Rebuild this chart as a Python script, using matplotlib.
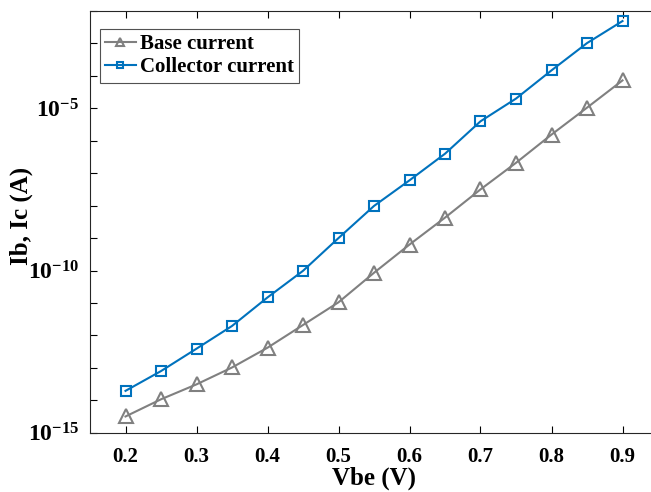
import numpy as np
import matplotlib
matplotlib.use("Agg")
import matplotlib.pyplot as plt

plt.rcParams['font.family'] = ['Liberation Serif', 'DejaVu Serif']
plt.rcParams['font.weight'] = 'bold'
plt.rcParams['mathtext.fontset'] = 'custom'
plt.rcParams['mathtext.rm'] = 'Liberation Serif:bold'
plt.rcParams['mathtext.it'] = 'Liberation Serif:bold'
plt.rcParams['mathtext.bf'] = 'Liberation Serif:bold'

# Datos
vbe = [0.2, 0.25, 0.3, 0.35, 0.4, 0.45, 0.5, 0.55, 0.6, 0.65, 0.7, 0.75, 0.8, 0.85, 0.9]
log_ib = [-14.5, -13.97, -13.51, -12.99, -12.38, -11.68, -10.98, -10.07, -9.2, -8.37,
          -7.5, -6.68, -5.81, -4.98, -4.14]
log_ic = [-13.71, -13.1, -12.41, -11.71, -10.83, -10.01, -9.0, -8.01, -7.22, -6.4,
          -5.4, -4.7, -3.83, -2.99, -2.31]
ib = 10.0 ** np.array(log_ib)
ic = 10.0 ** np.array(log_ic)

gris = '#808080'
azul = '#0072BD'

fig = plt.figure(figsize=(6.51, 4.92), dpi=100)
ax = fig.add_axes([90 / 651, 1 - 432.7 / 492, 568 / 651, (432.7 - 11) / 492])

ax.semilogy(vbe, ib, color=gris, lw=1.5, marker='^', ms=10, mfc='none', mew=1.5,
            label='Base current')
ax.semilogy(vbe, ic, color=azul, lw=1.5, marker='s', ms=6.5, mfc='none', mew=1.5,
            label='Collector current')

ax.set_xlim(0.15, 0.95)
ax.set_ylim(1e-15, 1e-2)
ax.set_xticks([0.2, 0.3, 0.4, 0.5, 0.6, 0.7, 0.8, 0.9])
ax.set_yticks([1e-15, 1e-10, 1e-5])
ax.set_yticklabels([r'$\mathbf{10^{-15}}$', r'$\mathbf{10^{-10}}$', r'$\mathbf{10^{-5}}$'],
                   fontsize=17)
ax.set_yticks(10.0 ** np.arange(-15, -1), minor=True)
ax.yaxis.set_minor_formatter(matplotlib.ticker.NullFormatter())

ax.tick_params(which='both', direction='in', top=True, right=True, length=5,
               width=0.8, pad=8)
ax.tick_params(axis='x', labelsize=15, pad=10)
for s in ax.spines.values():
    s.set_linewidth(0.8)
    s.set_color('#262626')

ax.set_xlabel('Vbe (V)', fontsize=18, fontweight='bold', labelpad=0)
ax.set_ylabel('Ib, Ic (A)', fontsize=18, fontweight='bold')
ax.yaxis.set_label_coords(-0.1, 0.515)

leg = ax.legend(loc='upper left', bbox_to_anchor=(0.017, 0.957), fontsize=15,
                handlelength=1.5, handletextpad=0.2, borderpad=0.25, labelspacing=0.15,
                fancybox=False, markerscale=0.6, borderaxespad=0)
leg.get_frame().set_edgecolor('#262626')
leg.get_frame().set_linewidth(0.8)

fig.savefig('out.png', dpi=100)
